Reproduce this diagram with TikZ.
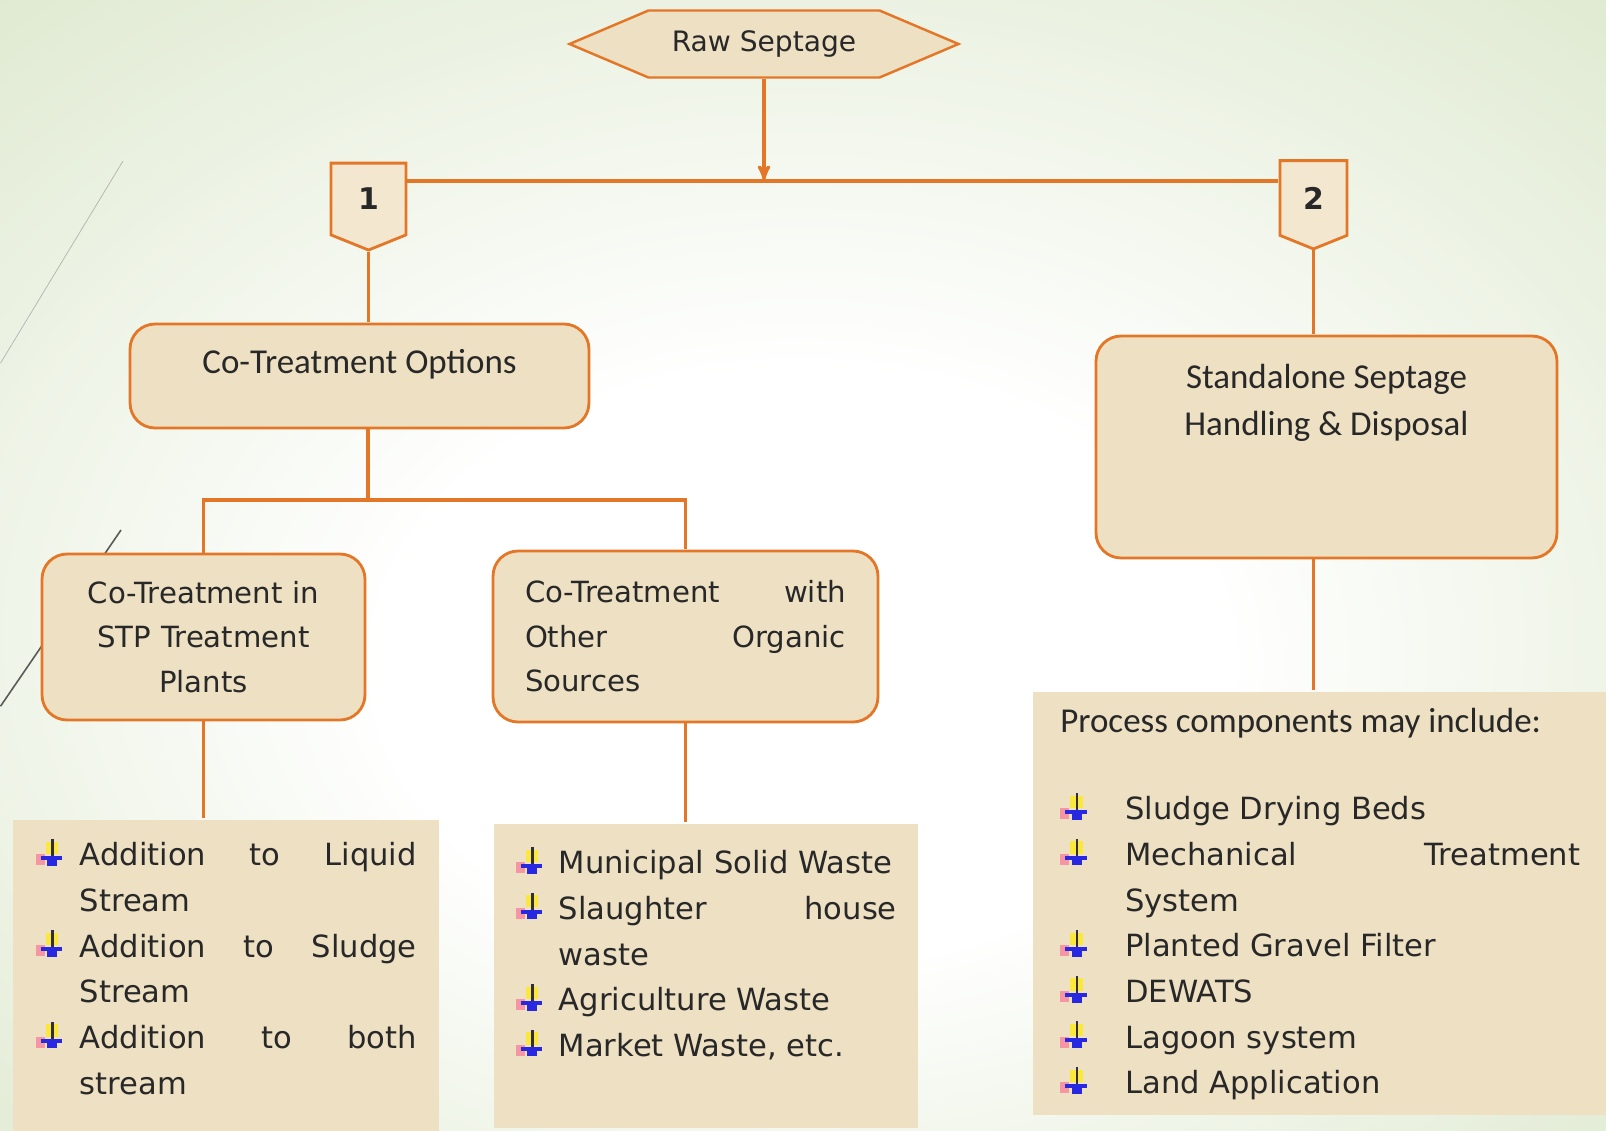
\documentclass[tikz,border=0pt]{standalone}
\usepackage{fontspec}
\setmainfont{DejaVu Sans}
\newfontfamily\headfont{Carlito}
\usetikzlibrary{arrows,shapes.symbols}
\definecolor{bggreen}{RGB}{222,233,207}
\definecolor{boxfill}{RGB}{237,224,195}
\definecolor{tagfill}{RGB}{244,231,207}
\definecolor{lineorange}{RGB}{228,118,40}
\definecolor{textgray}{RGB}{40,40,40}
\definecolor{bulyellow}{RGB}{250,232,60}
\definecolor{bulpink}{RGB}{246,150,165}
\definecolor{bulblue}{RGB}{40,40,225}
\definecolor{buldark}{RGB}{50,45,60}
\pgfdeclareradialshading{slidebg}{\pgfpoint{0bp}{-6bp}}{color(0bp)=(white); color(13bp)=(white); color(38bp)=(bggreen); color(50bp)=(bggreen)}
\hbadness=10000
\newlength{\bulhang}
% little coloured down-arrow bullet
\newcommand{\arrowbullet}{%
  \rlap{\hspace{0.32em}\textcolor{bulyellow}{\rule[0.39em]{0.42em}{0.4em}}}%
  \rlap{\textcolor{bulpink}{\rule[0.02em]{0.3em}{0.36em}}}%
  \rlap{\hspace{0.5em}\textcolor{buldark}{\rule[0.18em]{0.09em}{0.7em}}}%
  \rlap{\hspace{0.16em}\textcolor{bulblue}{\rule[0.19em]{0.7em}{0.13em}}}%
  \rlap{\hspace{0.38em}\textcolor{bulblue}{\rule{0.32em}{0.2em}}}%
  \hspace{1em}}
\newcommand{\bulletline}[1]{\par\noindent\hangindent=\bulhang\hangafter=1\makebox[\bulhang][l]{\arrowbullet}#1}
\newcommand{\listfont}{\fontsize{17.4}{26}\selectfont}
\newcommand{\boxfont}{\fontsize{16.6}{25.3}\selectfont}
\newcommand{\headsize}{\headfont\fontsize{19.9}{26.8}\selectfont}

\begin{document}
\begin{tikzpicture}[x=0.02cm,y=-0.02cm,>=stealth',shorten >=0.5pt,
                    line width=1.5pt]
  \tikzstyle{optbox} = [rectangle, rounded corners=0.5cm, draw=lineorange,
    line width=1.6pt, fill=boxfill, text=textgray, inner sep=0pt]
  \tikzstyle{listbox} = [rectangle, fill=boxfill, text=textgray,
    inner xsep=0pt, anchor=north west]
  \tikzstyle{tag} = [signal, signal to=south, signal pointer angle=136,
    draw=lineorange, line width=1.6pt, fill=tagfill, text=textgray,
    font=\bfseries\fontsize{17}{17}\selectfont, inner sep=0pt]
  \tikzstyle{link} = [draw=lineorange, line width=1.8pt]
  \useasboundingbox (0,0) rectangle (1606,1130);
  \shade[shading=slidebg] (0,0) rectangle (1606,1130);
  % slide decoration
  \draw[black!30, line width=0.4pt] (123,161) -- (0,364);
  \draw[black!65, line width=0.9pt] (121,530) -- (0,707);

  \node[signal, signal to=west and east, signal pointer angle=46,
        draw=lineorange, line width=1.4pt, fill=boxfill, text=textgray,
        minimum width=7.78cm, minimum height=1.34cm,
        font=\fontsize{16}{16}\selectfont] (raw) at (764,44) {Raw Septage};
  \node[tag, minimum width=1.5cm, minimum height=1.52cm] (t1) at (368.5,199) {1};
  \node[tag, minimum width=1.34cm, minimum height=1.58cm] (t2) at (1313.5,198) {2};
  \coordinate (split) at (764,181);
  \coordinate (branch) at (368,500);

  \node[optbox, minimum width=9.18cm, minimum height=2.08cm, font=\headsize,
        text depth=0.58cm] (cotreat) at (359.5,376) {Co-Treatment Options};
  \node[optbox, minimum width=9.22cm, minimum height=4.44cm, font=\headsize,
        align=center, text depth=1.88cm] (stand) at (1326.5,447)
        {Standalone Septage\\Handling \& Disposal};
  \node[optbox, minimum width=6.46cm, minimum height=3.32cm, font=\boxfont,
        text width=6cm, align=center] (stp) at (203.5,637)
        {Co-Treatment in\\STP Treatment\\Plants};
  \node[optbox, minimum width=7.7cm, minimum height=3.42cm, font=\boxfont,
        text width=6.42cm, align=justify] (other) at (685.5,636.5)
        {Co-Treatment with\linebreak Other Organic\linebreak Sources};

  \node[listbox, minimum width=8.52cm, inner ysep=0.37cm] (leftlist) at (12,819)
    {\parbox[c][5.48cm][t]{7.62cm}{\listfont\setlength{\bulhang}{0.88cm}%
      \bulletline{Addition to Liquid\linebreak Stream}
      \bulletline{Addition to Sludge\linebreak Stream}
      \bulletline{Addition to both\linebreak stream}}};
  \node[listbox, minimum width=8.48cm, inner ysep=0.45cm] (midlist) at (493,823)
    {\parbox[c][5.18cm][t]{7.62cm}{\listfont\setlength{\bulhang}{0.86cm}%
      \bulletline{Municipal Solid Waste}
      \bulletline{Slaughter house\linebreak waste}
      \bulletline{Agriculture Waste}
      \bulletline{Market Waste, etc.}}};
  \node[listbox, minimum width=11.48cm, inner ysep=0.31cm] (rightlist) at (1032,691)
    {\parbox[c][7.84cm][t]{10.4cm}{{\headfont\fontsize{19.9}{26}\selectfont
      Process components may include:\par}\vspace{0.84cm}%
      \listfont\setlength{\bulhang}{1.3cm}%
      \bulletline{Sludge Drying Beds}
      \bulletline{Mechanical Treatment\linebreak System}
      \bulletline{Planted Gravel Filter}
      \bulletline{DEWATS}
      \bulletline{Lagoon system}
      \bulletline{Land Application}}};

  \draw[link] (t1.east |- split) -- (t2.west |- split);
  \draw[link,->] (raw.south) -- (split);
  \draw[link] (t1.south) -- (t1.south |- cotreat.north);
  \draw[link] (cotreat.south -| branch) -- (branch);
  \draw[link] (stp.north) |- (branch) -| (other.north);
  \draw[link] (stp.south) -- (stp.south |- leftlist.north);
  \draw[link] (other.south) -- (other.south |- midlist.north);
  \draw[link] (t2.south) -- (t2.south |- stand.north);
  \draw[link] (stand.south -| t2.south) -- (t2.south |- rightlist.north);
\end{tikzpicture}
\end{document}
